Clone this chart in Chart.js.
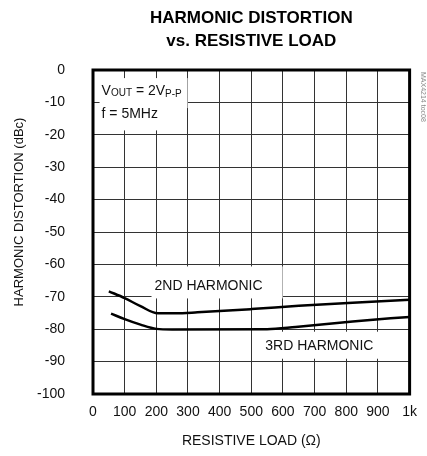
<!DOCTYPE html>
<html>
<head>
<meta charset="utf-8">
<script src="https://cdn.jsdelivr.net/npm/chart.js@4.4.1/dist/chart.umd.min.js"></script>
<style>
html, body { margin: 0; padding: 0; background: #fff; }
</style>
</head>
<body>
<canvas id="hdChart" width="427" height="456"></canvas>
<script>
// curves (load in ohms, distortion in dBc)
const hd2Load = [50, 100, 150, 205, 260, 330, 500, 650, 820, 1000];
const hd2Dbc = [-68.3, -70.4, -72.9, -75.1, -75.1, -74.8, -73.8, -72.8, -71.8, -70.9];
const hd3Load = [57, 100, 150, 200, 250, 550, 640, 820, 1000];
const hd3Dbc = [-75.2, -76.9, -78.6, -79.9, -80.1, -80.0, -79.3, -77.6, -76.2];

const xTickLabels = ['0', '100', '200', '300', '400', '500', '600', '700', '800', '900', '1k'];

const titleLines = ['HARMONIC DISTORTION', 'vs. RESISTIVE LOAD'];
const yTitle = 'HARMONIC DISTORTION (dBc)';
const xTitle = 'RESISTIVE LOAD (\u03A9)';
const hd2Name = '2ND HARMONIC';
const hd3Name = '3RD HARMONIC';
const sideNote = 'MAX4214 toc08';

const FONT = "'Liberation Sans', Arial, sans-serif";
const INK = '#111';

function toPoints(xs, ys) {
    return xs.map((v, i) => ({ x: v, y: ys[i] }));
}

// text with a white patch behind it, so grid lines break around it
function boxLabel(ctx, text, cx, cy, pad) {
    ctx.font = '14px ' + FONT;
    const w = ctx.measureText(text).width;
    ctx.fillStyle = '#fff';
    ctx.fillRect(cx - w / 2 - pad[0], cy - 7 - pad[1], w + pad[0] + pad[2], 14 + pad[1] + pad[3]);
    ctx.fillStyle = INK;
    ctx.textAlign = 'center';
    ctx.textBaseline = 'middle';
    ctx.fillText(text, cx, cy);
}

// draws runs of [text, size, dy] from a left x
function richText(ctx, parts, x, y) {
    ctx.textAlign = 'left';
    ctx.textBaseline = 'alphabetic';
    ctx.fillStyle = INK;
    let cx = x;
    parts.forEach(p => {
        ctx.font = p[1] + 'px ' + FONT;
        ctx.fillText(p[0], cx, y + p[2]);
        cx += ctx.measureText(p[0]).width;
    });
    return cx;
}

const decor = {
    id: 'decor',
    beforeDatasetsDraw(chart) {
        const { ctx, scales: { x, y } } = chart;
        ctx.save();
        boxLabel(ctx, hd2Name, x.getPixelForValue(365), y.getPixelForValue(-66.8), [3, 13, 20, 5]);
        boxLabel(ctx, hd3Name, x.getPixelForValue(715), y.getPixelForValue(-85.1), [2, 7, 7, 6]);

        // test conditions, top left
        const lx = x.getPixelForValue(27);
        const y1 = y.getPixelForValue(-6.2) + 5;
        const y2 = y.getPixelForValue(-13.4) + 5;
        ctx.fillStyle = '#fff';
        ctx.fillRect(lx - 2, y1 - 17, 88, 30);
        ctx.fillRect(lx - 2, y2 - 15, 65, 27);
        richText(ctx, [['V', 14, 0], ['OUT', 10, 1], [' = 2V', 14, 0], ['P-P', 10, 2]], lx, y1);
        richText(ctx, [['f = 5MHz', 14, 0]], lx, y2);
        ctx.restore();
    },
    afterDraw(chart) {
        const { ctx, chartArea: a } = chart;
        ctx.save();
        ctx.strokeStyle = '#000';
        ctx.lineWidth = 3;
        ctx.strokeRect(a.left, a.top, a.right - a.left, a.bottom - a.top);

        const mid = (a.left + a.right) / 2;
        ctx.fillStyle = '#000';
        ctx.textAlign = 'center';
        ctx.textBaseline = 'middle';
        ctx.font = 'bold 17px ' + FONT;
        ctx.fillText(titleLines[0], mid, 18);
        ctx.fillText(titleLines[1], mid, 41);

        ctx.fillStyle = INK;
        ctx.font = '13px ' + FONT;
        ctx.translate(19, 212);
        ctx.rotate(-Math.PI / 2);
        ctx.fillText(yTitle, 0, 0);
        ctx.restore();

        ctx.save();
        ctx.fillStyle = '#888';
        ctx.font = '7px ' + FONT;
        ctx.textAlign = 'left';
        ctx.textBaseline = 'middle';
        ctx.translate(423, 72);
        ctx.rotate(Math.PI / 2);
        ctx.fillText(sideNote, 0, 0);
        ctx.restore();
    }
};

const ctx = document.getElementById('hdChart').getContext('2d');
const hdChart = new Chart(ctx, {
    type: 'line',
    data: {
        datasets: [
            {
                label: hd2Name,
                data: toPoints(hd2Load, hd2Dbc),
                borderColor: '#000',
                borderWidth: 2.5,
                pointRadius: 0,
                cubicInterpolationMode: 'monotone'
            },
            {
                label: hd3Name,
                data: toPoints(hd3Load, hd3Dbc),
                borderColor: '#000',
                borderWidth: 2.5,
                pointRadius: 0,
                cubicInterpolationMode: 'monotone'
            }
        ]
    },
    options: {
        responsive: false,
        animation: false,
        layout: { padding: { top: 70, right: 9, bottom: 0, left: 0 } },
        plugins: {
            legend: { display: false },
            tooltip: { enabled: false },
            title: { display: false }
        },
        scales: {
            x: {
                type: 'linear',
                min: 0,
                max: 1000,
                afterFit: s => { s.height = 62; },
                grid: { color: '#333', lineWidth: 1, drawTicks: false },
                border: { display: false },
                ticks: {
                    stepSize: 100,
                    autoSkip: false,
                    maxRotation: 0,
                    padding: 10,
                    color: INK,
                    font: { size: 14, family: FONT },
                    callback: (v, i) => xTickLabels[i]
                },
                title: {
                    display: true,
                    text: xTitle,
                    color: INK,
                    padding: { top: 0, bottom: 6 },
                    font: { size: 14, family: FONT }
                }
            },
            y: {
                min: -100,
                max: 0,
                afterFit: s => { s.width = 93; },
                grid: { color: '#333', lineWidth: 1, drawTicks: false },
                border: { display: false },
                ticks: {
                    stepSize: 10,
                    padding: 28,
                    color: INK,
                    font: { size: 14, family: FONT }
                }
            }
        }
    },
    plugins: [decor]
});
</script>
</body>
</html>
